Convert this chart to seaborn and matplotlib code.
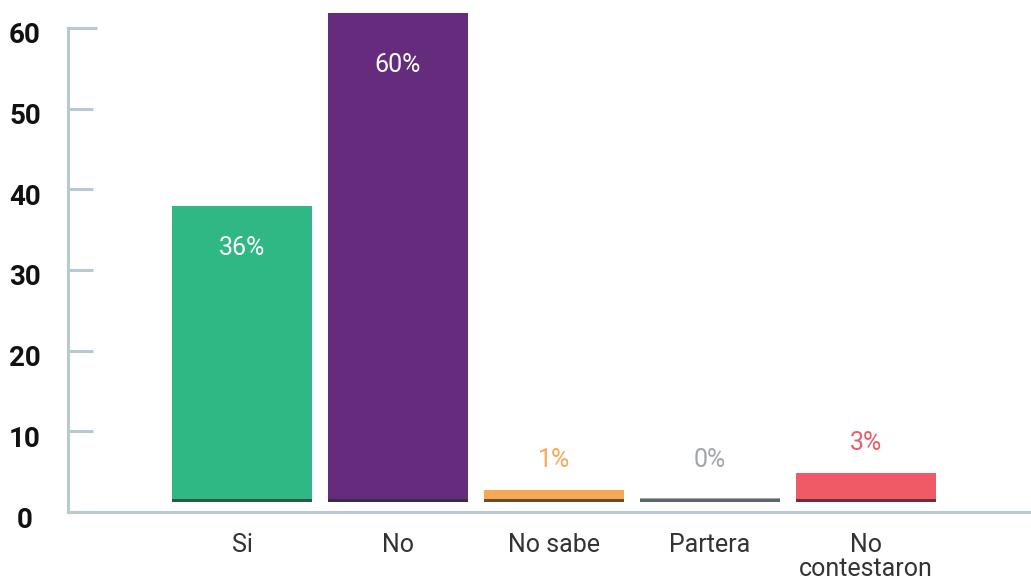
import matplotlib
matplotlib.use("Agg")
import matplotlib.pyplot as plt
import matplotlib.transforms as mtransforms
import seaborn as sns

# data
categories = ["Si", "No", "No sabe", "Partera", "No\ncontestaron"]
heights = [36.7, 60.6, 1.5, 0.5, 3.6]
pct_labels = ["36%", "60%", "1%", "0%", "3%"]
y_ticks = [0, 10, 20, 30, 40, 50, 60]

bar_colors = ["#2fb884", "#652c7e", "#f6aa58", "#a0a7ac", "#ef5a66"]
dark_colors = ["#2e5a45", "#392d4c", "#6b4b30", "#5c666c", "#6e2d38"]
label_colors = ["white", "white", "#f6aa58", "#a0a7ac", "#ef5a66"]
label_offsets_px = [-42, -52, 30, 38, 30]

base = 1.24
axis_color = "#b7c9d1"

sns.set_style("white")
plt.rcParams["font.family"] = ["Roboto", "DejaVu Sans"]

fig = plt.figure(figsize=(10.31, 5.86), dpi=100)
ax = fig.add_axes([68 / 1031, 74 / 586, 1 - 68 / 1031, 512 / 586])

sns.barplot(x=categories, y=heights, hue=categories, palette=bar_colors,
            legend=False, width=0.9, bottom=base, saturation=1,
            linewidth=0, edgecolor="none", ax=ax)
# dark strip along the foot of each bar
sns.barplot(x=categories, y=[0.42] * len(categories), hue=categories,
            palette=dark_colors, legend=False, width=0.9, bottom=base,
            saturation=1, linewidth=0, edgecolor="none", ax=ax)

for i, (h, txt) in enumerate(zip(heights, pct_labels)):
    ax.annotate(txt, xy=(i, base + h),
                xytext=(0, label_offsets_px[i] * 0.72), textcoords="offset points",
                ha="center", va="center", fontsize=18, color=label_colors[i])

ax.set_xlim(-1.115, 5.058)
ax.set_ylim(0, 512 / 8.07)
ax.set_yticks(y_ticks)
ax.set_xlabel("")
ax.set_ylabel("")

sns.despine(ax=ax, top=True, right=True)
for side in ["left", "bottom"]:
    ax.spines[side].set_color(axis_color)
    ax.spines[side].set_linewidth(2.2)
ax.spines["left"].set_bounds(0, 60)

ax.tick_params(axis="y", left=True, direction="in", length=18, width=2.2,
               color=axis_color, pad=31, labelsize=20, labelcolor="#111111")
ax.tick_params(axis="x", bottom=False, length=0, pad=15, labelsize=18,
               labelcolor="#333333")
ax.yaxis.get_major_ticks()[-1].tick1line.set_markersize(21)

shift = mtransforms.ScaledTranslation(0, -5 / 100, fig.dpi_scale_trans)
for lab in ax.get_yticklabels():
    lab.set_fontweight("bold")
    lab.set_horizontalalignment("center")
    lab.set_transform(lab.get_transform() + shift)
for lab in ax.get_xticklabels():
    lab.set_linespacing(1.0)

fig.savefig("out.png", dpi=100)
